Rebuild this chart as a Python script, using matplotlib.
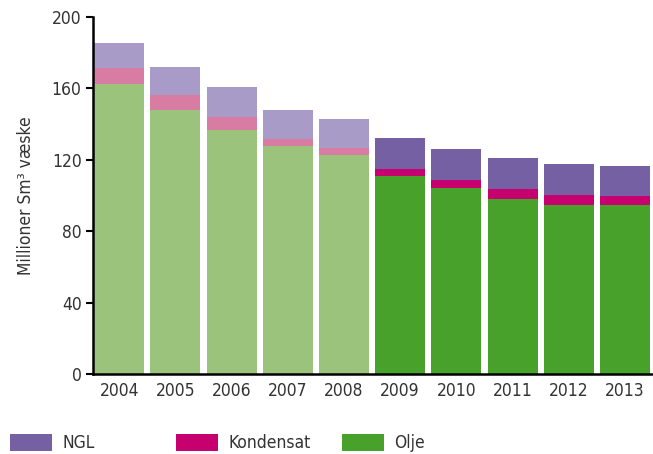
import matplotlib
matplotlib.use('Agg')
import matplotlib.pyplot as plt
from matplotlib.patches import Rectangle
import numpy as np

plt.rcParams['font.family'] = ['DejaVu Sans']
plt.rcParams['font.stretch'] = 'condensed'

years = ['2004', '2005', '2006', '2007', '2008', '2009', '2010', '2011', '2012', '2013']
olje = [162.5, 147.9, 136.7, 127.7, 122.7, 110.9, 104.2, 98.0, 94.7, 94.7]
kondensat = [8.9, 8.4, 7.1, 4.0, 4.1, 3.9, 4.5, 5.6, 5.6, 5.0]
ngl = [14.0, 15.7, 17.0, 16.2, 16.1, 17.4, 17.4, 17.4, 17.3, 16.8]
series = ['NGL', 'Kondensat', 'Olje']

# first five years drawn in faded tones
c_olje = ['#9bc37c'] * 5 + ['#48a12b'] * 5
c_kond = ['#d97ca3'] * 5 + ['#c7006f'] * 5
c_ngl = ['#a89bc7'] * 5 + ['#7560a4'] * 5
legend_colors = ['#7560a4', '#c7006f', '#48a12b']
txt = '#333333'

x = np.arange(len(years))
olje = np.array(olje)
kondensat = np.array(kondensat)
ngl = np.array(ngl)

W, H = 653, 454
fig = plt.figure(figsize=(W / 100, H / 100), dpi=100)
ax = fig.add_axes([0.142, 0.176, 0.858, 0.787])

w = 0.89
ax.bar(x, olje, w, color=c_olje)
ax.bar(x, kondensat, w, bottom=olje, color=c_kond)
ax.bar(x, ngl, w, bottom=olje + kondensat, color=c_ngl)

ax.set_xlim(-0.47, 9.5)
ax.set_ylim(0, 200)
ax.set_yticks([0, 40, 80, 120, 160, 200])
ax.set_xticks(x)
ax.set_xticklabels(years)
ax.tick_params(axis='x', length=0, labelsize=12.5, pad=6, labelcolor=txt)
ax.tick_params(axis='y', length=5, width=1.5, labelsize=12.5, pad=3, labelcolor=txt)
ax.spines['top'].set_visible(False)
ax.spines['right'].set_visible(False)
ax.spines['left'].set_linewidth(1.8)
ax.spines['bottom'].set_linewidth(1.8)
ax.set_ylabel('Millioner Sm³ væske', fontsize=12.5, color=txt, labelpad=12)

# legend along the bottom
box_x = [10, 176, 342]
for bx, name, col in zip(box_x, series, legend_colors):
    fig.add_artist(Rectangle((bx / W, 1 - 451 / H), 42 / W, 17 / H,
                             transform=fig.transFigure, color=col, lw=0))
    fig.text((bx + 52) / W, 1 - 443 / H, name, fontsize=12.5, color=txt, va='center')

fig.savefig('out.png', dpi=100)
